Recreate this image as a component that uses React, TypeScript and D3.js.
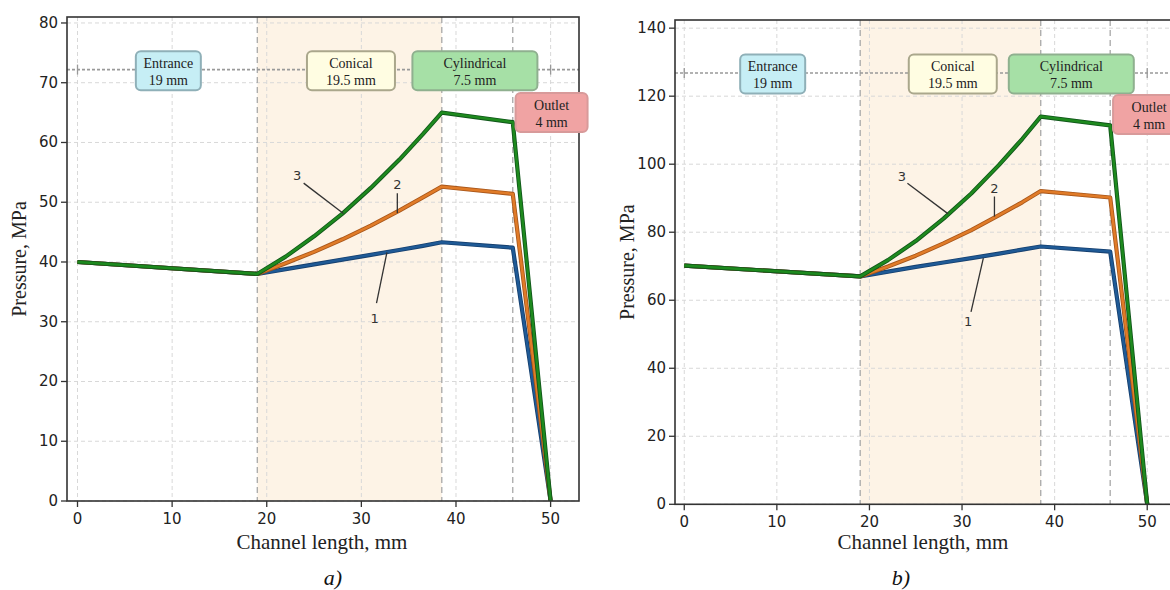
import React from "react";
import * as d3 from "d3";

// ---- data ----
const channelX = [0, 19, 22, 25, 28, 31, 34, 36.5, 38.5, 46, 50];
const pressureA1 = [40, 38, 38.8, 39.6, 40.4, 41.2, 42.0, 42.7, 43.3, 42.4, 0];
const pressureA2 = [40, 38, 39.8, 41.7, 43.8, 46.1, 48.6, 50.8, 52.6, 51.4, 0];
const pressureA3 = [40, 38, 40.9, 44.3, 48.1, 52.4, 57.1, 61.4, 65.0, 63.4, 0];
const pressureB1 = [70.2, 67, 68.4, 69.8, 71.1, 72.4, 73.7, 74.9, 75.8, 74.3, 0];
const pressureB2 = [70.2, 67, 69.9, 73.1, 76.7, 80.6, 85.0, 88.8, 92.1, 90.2, 0];
const pressureB3 = [70.2, 67, 71.8, 77.4, 84.0, 91.4, 99.8, 107.4, 114.0, 111.4, 0];
const seriesLabels = ["1", "2", "3"];

const zoneBounds = [0, 19, 38.5, 46, 50];
const zoneNames = ["Entrance", "Conical", "Cylindrical", "Outlet"];
const zoneLengths = ["19 mm", "19.5 mm", "7.5 mm", "4 mm"];

const xTicks = [0, 10, 20, 30, 40, 50];
const yTicksA = [0, 10, 20, 30, 40, 50, 60, 70, 80];
const yTicksB = [0, 20, 40, 60, 80, 100, 120, 140];

// ---- styles / layout ----
const lineColors = ["#1f5a96", "#e07b28", "#1e8a1e"];
const lineEdge = ["#153f6e", "#a8561a", "#10561a"];
const boxFill = ["#c6eef5", "#fffde2", "#a6e0a6", "#f0a3a3"];
const boxStroke = ["#8fb0b8", "#aaa78c", "#8fb08f", "#d89a9a"];
const boxW = [65, 88, 125, 72];
const SANS = "'DejaVu Sans', sans-serif";
const SERIF = "'Liberation Serif', 'Times New Roman', serif";

type Ann = { t: [number, number]; a: [number, number]; b: [number, number] };

const panels = [
  {
    left: 67, right: 579, top: 17, bottom: 501,
    xDomain: [-1.11, 53.0], yMax: 81.0, yTicks: yTicksA,
    series: [pressureA1, pressureA2, pressureA3],
    bandY: 72.2, boxY: 72.0, outletY: 65, boxX: [9.6, 28.9, 42.0, 50.1],
    ylabelX: 19, xlabelX: 322, sub: "a)", subX: 333,
    anns: [
      { t: [31.4, 30.6], a: [31.6, 33.1], b: [32.7, 41.6] },
      { t: [33.8, 53.0], a: [33.8, 51.5], b: [33.8, 48.2] },
      { t: [23.2, 54.4], a: [23.9, 53.2], b: [28.1, 48.1] },
    ] as Ann[],
  },
  {
    left: 675, right: 1175, top: 20, bottom: 504.3,
    xDomain: [-1.0, 53.0], yMax: 142.4, yTicks: yTicksB,
    series: [pressureB1, pressureB2, pressureB3],
    bandY: 126.8, boxY: 126.5, outletY: 114.6, boxX: [9.55, 29.0, 41.8, 50.2],
    ylabelX: 627, xlabelX: 923, sub: "b)", subX: 901,
    anns: [
      { t: [30.65, 53.7], a: [30.97, 56.6], b: [32.3, 72.4] },
      { t: [33.5, 93.0], a: [33.5, 90.5], b: [33.5, 84.6] },
      { t: [23.5, 96.3], a: [24.1, 94.4], b: [28.5, 85.4] },
    ] as Ann[],
  },
];

function Panel({ p, idx }: { p: (typeof panels)[number]; idx: number }) {
  const x = d3.scaleLinear().domain(p.xDomain).range([p.left, p.right]);
  const y = d3.scaleLinear().domain([0, p.yMax]).range([p.bottom, p.top]);
  const line = d3
    .line<number>()
    .x((_, i) => x(channelX[i]))
    .y((d) => y(d));
  const clipId = `clip${idx}`;
  return (
    <g>
      <defs>
        <clipPath id={clipId}>
          <rect x={p.left} y={p.top} width={p.right - p.left} height={p.bottom - p.top} />
        </clipPath>
      </defs>
      {/* conical zone shading */}
      <rect
        x={x(zoneBounds[1])}
        y={p.top}
        width={x(zoneBounds[2]) - x(zoneBounds[1])}
        height={p.bottom - p.top}
        fill="#fdf3e6"
      />
      {/* grid */}
      {xTicks.map((t) => (
        <line key={"gx" + t} x1={x(t)} x2={x(t)} y1={p.top} y2={p.bottom}
          stroke="#d8d8d8" strokeWidth={1} strokeDasharray="4,3" />
      ))}
      {p.yTicks.map((t) => (
        <line key={"gy" + t} x1={p.left} x2={p.right} y1={y(t)} y2={y(t)}
          stroke="#d8d8d8" strokeWidth={1} strokeDasharray="4,3" />
      ))}
      {/* zone boundaries */}
      {zoneBounds.slice(1, 4).map((b) => (
        <line key={"zb" + b} x1={x(b)} x2={x(b)} y1={p.top} y2={p.bottom}
          stroke="#a8a8a8" strokeWidth={1.3} strokeDasharray="6,4" />
      ))}
      {/* dimension line */}
      <g clipPath={`url(#${clipId})`}>
        <line x1={p.left} x2={p.right} y1={y(p.bandY)} y2={y(p.bandY)}
          stroke="#999" strokeWidth={1.6} strokeDasharray="3,2" />
        {[zoneBounds[0], zoneBounds[4]].map((b) => (
          <line key={"dt" + b} x1={x(b)} x2={x(b)} y1={y(p.bandY) - 5} y2={y(p.bandY) + 5}
            stroke="#999" strokeWidth={1.3} />
        ))}
      </g>
      {/* curves */}
      <g clipPath={`url(#${clipId})`}>
        {p.series.map((s, i) => (
          <g key={"s" + i}>
            <path d={line(s) || ""} fill="none" stroke={lineEdge[i]} strokeWidth={4.2}
              strokeLinejoin="round" />
            <path d={line(s) || ""} fill="none" stroke={lineColors[i]} strokeWidth={2.5}
              strokeLinejoin="round" />
          </g>
        ))}
      </g>
      {/* annotations */}
      {p.anns.map((a, i) => (
        <g key={"an" + i}>
          <line x1={x(a.a[0])} y1={y(a.a[1])} x2={x(a.b[0])} y2={y(a.b[1])}
            stroke="#333" strokeWidth={1.3} />
          <text x={x(a.t[0])} y={y(a.t[1])} textAnchor="middle" dominantBaseline="central"
            fontFamily={SANS} fontSize={13} fill="#333">
            {seriesLabels[i]}
          </text>
        </g>
      ))}
      {/* frame */}
      <rect x={p.left} y={p.top} width={p.right - p.left} height={p.bottom - p.top}
        fill="none" stroke="#333" strokeWidth={1.6} />
      {/* zone boxes */}
      {zoneNames.map((n, i) => {
        const cx = x(p.boxX[i]);
        const cy = y(i === 3 ? p.outletY : p.boxY);
        const w = boxW[i];
        const h = 39;
        return (
          <g key={"box" + i}>
            <rect x={cx - w / 2} y={cy - h / 2} width={w} height={h} rx={5}
              fill={boxFill[i]} stroke={boxStroke[i]} strokeWidth={2} />
            <text x={cx} y={cy - 3} textAnchor="middle" fontFamily={SERIF} fontSize={14} fill="#222">
              {n}
            </text>
            <text x={cx} y={cy + 14} textAnchor="middle" fontFamily={SERIF} fontSize={14} fill="#222">
              {zoneLengths[i]}
            </text>
          </g>
        );
      })}
      {/* x axis ticks */}
      {xTicks.map((t) => (
        <g key={"xt" + t}>
          <line x1={x(t)} x2={x(t)} y1={p.bottom} y2={p.bottom + 6} stroke="#333" strokeWidth={1.3} />
          <text x={x(t)} y={p.bottom + 23} textAnchor="middle" fontFamily={SANS} fontSize={15} fill="#222">
            {t}
          </text>
        </g>
      ))}
      {/* y axis ticks */}
      {p.yTicks.map((t) => (
        <g key={"yt" + t}>
          <line x1={p.left - 6} x2={p.left} y1={y(t)} y2={y(t)} stroke="#333" strokeWidth={1.3} />
          <text x={p.left - 9} y={y(t)} textAnchor="end" dominantBaseline="central"
            fontFamily={SANS} fontSize={15} fill="#222">
            {t}
          </text>
        </g>
      ))}
      {/* axis labels */}
      <text x={p.xlabelX} y={549} textAnchor="middle" fontFamily={SERIF} fontSize={21} fill="#222">
        Channel length, mm
      </text>
      <text transform={`translate(${p.ylabelX},${(p.top + p.bottom) / 2}) rotate(-90)`}
        textAnchor="middle" dominantBaseline="central" fontFamily={SERIF} fontSize={20} fill="#222">
        Pressure, MPa
      </text>
      <text x={p.subX} y={585} textAnchor="middle" fontFamily={SERIF} fontStyle="italic"
        fontSize={22} fill="#111">
        {p.sub}
      </text>
    </g>
  );
}

export default function App() {
  return (
    <div style={{ position: "absolute", left: 0, top: 0 }}>
      <svg width={1170} height={590} style={{ display: "block", background: "#fff" }}>
        {panels.map((p, i) => (
          <Panel key={i} p={p} idx={i} />
        ))}
      </svg>
    </div>
  );
}
